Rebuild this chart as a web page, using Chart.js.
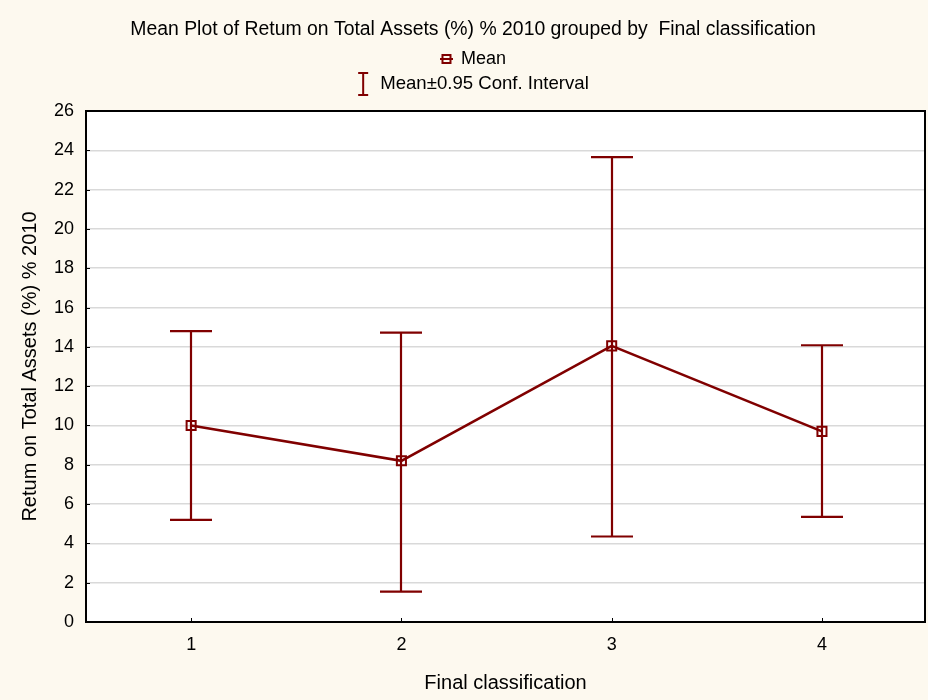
<!DOCTYPE html>
<html>
<head>
<meta charset="utf-8">
<script src="https://cdn.jsdelivr.net/npm/chart.js@4/dist/chart.umd.min.js"></script>
<style>
  html, body { margin: 0; padding: 0; background: #fdf9ef; }
  #wrap { width: 928px; height: 700px; }
</style>
</head>
<body>
<div id="wrap"><canvas id="c" width="928" height="700"></canvas></div>
<script>
// Group means of Return on Total Assets (%) 2010 with 95% confidence limits
const groups = [1, 2, 3, 4];
const means = [10.0, 8.2, 14.05, 9.7];
const ciUpper = [14.8, 14.72, 23.65, 14.08];
const ciLower = [5.2, 1.55, 4.35, 5.35];
const yTicks = [0, 2, 4, 6, 8, 10, 12, 14, 16, 18, 20, 22, 24, 26];

const chartTitle = 'Mean Plot of Retum on Total Assets (%) % 2010 grouped by  Final classification';
const legendMean = 'Mean';
const legendCI = 'Mean\u00b10.95 Conf. Interval';
const xTitle = 'Final classification';
const yTitle = 'Retum on Total Assets (%) % 2010';

const FONT = "'Liberation Sans', Arial, Helvetica, sans-serif";
const RED = '#800000';
const BG = '#fdf9ef';

const frame = {
  id: 'frame',
  beforeDraw(chart) {
    const { ctx, chartArea: a } = chart;
    ctx.save();
    ctx.fillStyle = BG;
    ctx.fillRect(0, 0, chart.width, chart.height);
    ctx.fillStyle = '#ffffff';
    ctx.fillRect(a.left, a.top, a.right - a.left, a.bottom - a.top);
    ctx.restore();
  },
  afterDatasetsDraw(chart) {
    const { ctx, scales: { x, y } } = chart;
    ctx.save();
    ctx.strokeStyle = RED;
    ctx.lineWidth = 2.2;
    const half = 21;
    groups.forEach((g, i) => {
      const px = Math.round(x.getPixelForValue(g));
      const yu = y.getPixelForValue(ciUpper[i]);
      const yl = y.getPixelForValue(ciLower[i]);
      ctx.beginPath();
      ctx.moveTo(px, yu);
      ctx.lineTo(px, yl);
      ctx.moveTo(px - half, yu);
      ctx.lineTo(px + half, yu);
      ctx.moveTo(px - half, yl);
      ctx.lineTo(px + half, yl);
      ctx.stroke();
    });
    ctx.restore();
  },
  afterDraw(chart) {
    const { ctx, chartArea: a, scales: { x, y } } = chart;
    ctx.save();
    // small inward tick marks
    ctx.strokeStyle = '#000';
    ctx.lineWidth = 1;
    ctx.beginPath();
    yTicks.forEach(v => {
      const py = Math.round(y.getPixelForValue(v)) + 0.5;
      ctx.moveTo(a.left, py); ctx.lineTo(a.left + 4, py);
    });
    groups.forEach(g => {
      const px = Math.round(x.getPixelForValue(g)) + 0.5;
      ctx.moveTo(px, a.bottom); ctx.lineTo(px, a.bottom - 4);
    });
    ctx.stroke();
    // plot frame
    ctx.lineWidth = 2;
    ctx.strokeRect(a.left, a.top, a.right - a.left, a.bottom - a.top);

    // title and legend
    const cx = 473;
    ctx.fillStyle = '#000';
    ctx.textBaseline = 'middle';
    ctx.textAlign = 'center';
    ctx.font = '19.4px ' + FONT;
    ctx.fillText(chartTitle, cx, 30);

    ctx.textAlign = 'left';
    ctx.font = '18px ' + FONT;
    const wMean = ctx.measureText(legendMean).width;
    const meanStart = cx - (21 + wMean) / 2;
    // mean marker: line with hollow square
    ctx.strokeStyle = RED;
    ctx.lineWidth = 2;
    ctx.beginPath();
    ctx.moveTo(meanStart, 59); ctx.lineTo(meanStart + 13, 59);
    ctx.stroke();
    ctx.strokeRect(meanStart + 2.5, 55, 8, 8);
    ctx.fillText(legendMean, meanStart + 21, 59);

    ctx.font = '18.6px ' + FONT;
    const wCI = ctx.measureText(legendCI).width;
    const ciStart = cx - (23 + wCI) / 2;
    const ix = ciStart + 6;
    ctx.beginPath();
    ctx.moveTo(ix, 73); ctx.lineTo(ix, 95);
    ctx.moveTo(ix - 5, 73); ctx.lineTo(ix + 5, 73);
    ctx.moveTo(ix - 5, 95); ctx.lineTo(ix + 5, 95);
    ctx.stroke();
    ctx.fillText(legendCI, ciStart + 23, 84);
    ctx.restore();
  }
};

new Chart(document.getElementById('c'), {
  type: 'scatter',
  data: {
    datasets: [{
      label: legendMean,
      data: groups.map((g, i) => ({ x: g, y: means[i] })),
      showLine: true,
      borderColor: RED,
      borderWidth: 2.6,
      backgroundColor: 'rgba(0,0,0,0)',
      pointStyle: 'rect',
      pointRadius: 6.4,
      pointBorderWidth: 2,
      pointBorderColor: RED,
      pointBackgroundColor: 'rgba(0,0,0,0)',
      tension: 0
    }]
  },
  options: {
    responsive: false,
    animation: false,
    devicePixelRatio: 1,
    layout: { autoPadding: false, padding: { top: 111, right: 3, bottom: 0, left: 0 } },
    plugins: {
      legend: { display: false },
      title: { display: false },
      tooltip: { enabled: false }
    },
    scales: {
      x: {
        type: 'linear',
        min: 0.5,
        max: 4.49,
        afterBuildTicks(s) { s.ticks = groups.map(v => ({ value: v })); },
        afterFit(s) { s.height = 78; s.paddingLeft = 0; s.paddingRight = 0; },
        grid: { display: false, drawTicks: false },
        border: { display: false },
        ticks: {
          padding: 12,
          color: '#000',
          font: { family: FONT, size: 18 },
          callback: v => String(v)
        },
        title: {
          display: true,
          text: xTitle,
          color: '#000',
          font: { family: FONT, size: 20, lineHeight: 1.2 },
          padding: { top: 0, bottom: 5 }
        }
      },
      y: {
        type: 'linear',
        min: 0,
        max: 26,
        afterBuildTicks(s) { s.ticks = yTicks.map(v => ({ value: v })); },
        afterFit(s) { s.width = 86; },
        grid: { color: '#d9d9d9', lineWidth: 1.5, drawTicks: false },
        border: { display: false },
        ticks: {
          padding: 12,
          color: '#000',
          font: { family: FONT, size: 18 },
          callback: v => String(v)
        },
        title: {
          display: true,
          text: yTitle,
          color: '#000',
          font: { family: FONT, size: 20, lineHeight: 1.2 },
          padding: { top: 18, bottom: 0 }
        }
      }
    }
  },
  plugins: [frame]
});
</script>
</body>
</html>
